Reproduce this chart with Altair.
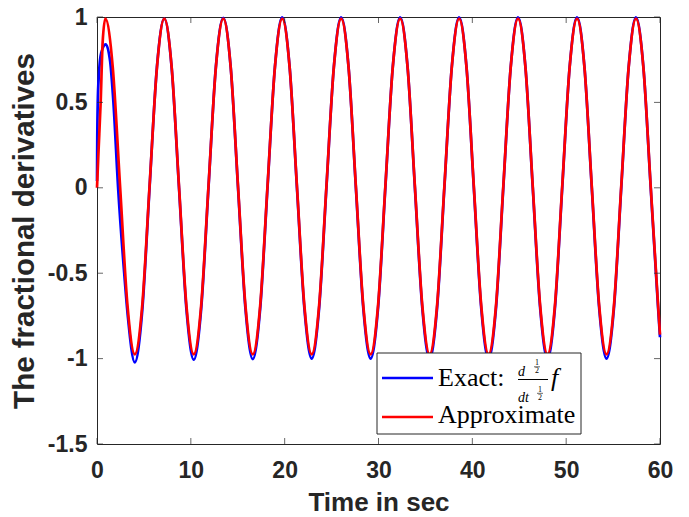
import altair as alt
import pandas as pd

# ---------------- data ----------------
x_ticks = [0, 10, 20, 30, 40, 50, 60]
y_ticks = [-1.5, -1, -0.5, 0, 0.5, 1]

exact_t = [0, 0.03, 0.08, 0.2, 0.45, 0.93, 1.4, 1.75, 2.25, 2.9, 3.3, 4.02, 4.82, 5.60, 6.39,
           7.17, 7.96, 8.74, 9.53, 10.31, 11.10, 11.88, 12.67,
           13.46, 14.25, 15.03, 15.82, 16.60, 17.39, 18.17, 18.96,
           19.74, 20.53, 21.31, 22.10, 22.88, 23.67, 24.45, 25.24,
           26.02, 26.81, 27.59, 28.38, 29.16, 29.95, 30.73, 31.52,
           32.31, 33.10, 33.88, 34.67, 35.45, 36.24, 37.02, 37.81,
           38.59, 39.38, 40.16, 40.95, 41.73, 42.52, 43.30, 44.09,
           44.87, 45.66, 46.44, 47.23, 48.01, 48.80, 49.58, 50.37,
           51.16, 51.95, 52.73, 53.52, 54.30, 55.09, 55.87, 56.66,
           57.44, 58.23, 59.01, 59.80, 60.0]
exact_v = [0.04, 0.3, 0.5, 0.66, 0.79, 0.84, 0.74, 0.5, 0.0, -0.5, -0.76, -1.022, -0.72, 0.0, 0.71,
           0.99, 0.70, 0.0, -0.71, -1.006, -0.71, 0.0, 0.71,
           0.995, 0.705, 0.0, -0.707, -1.003, -0.707, 0.0, 0.707,
           0.998, 0.706, 0.0, -0.706, -1.0, -0.706, 0.0, 0.706,
           0.998, 0.706, 0.0, -0.706, -1.0, -0.706, 0.0, 0.706,
           0.998, 0.706, 0.0, -0.706, -1.0, -0.706, 0.0, 0.706,
           0.998, 0.706, 0.0, -0.706, -1.0, -0.706, 0.0, 0.706,
           0.998, 0.706, 0.0, -0.706, -1.0, -0.706, 0.0, 0.706,
           0.998, 0.706, 0.0, -0.706, -1.0, -0.706, 0.0, 0.706,
           0.998, 0.706, 0.0, -0.706, -0.875]

approx_t = [0, 0.15, 0.39, 0.6, 0.89, 1.68, 2.46, 3.25, 4.03, 4.82, 5.60, 6.39,
            7.17, 7.96, 8.74, 9.53, 10.31, 11.10, 11.88, 12.67,
            13.46, 14.25, 15.03, 15.82, 16.60, 17.39, 18.17, 18.96,
            19.74, 20.53, 21.31, 22.10, 22.88, 23.67, 24.45, 25.24,
            26.02, 26.81, 27.59, 28.38, 29.16, 29.95, 30.73, 31.52,
            32.31, 33.10, 33.88, 34.67, 35.45, 36.24, 37.02, 37.81,
            38.59, 39.38, 40.16, 40.95, 41.73, 42.52, 43.30, 44.09,
            44.87, 45.66, 46.44, 47.23, 48.01, 48.80, 49.58, 50.37,
            51.16, 51.95, 52.73, 53.52, 54.30, 55.09, 55.87, 56.66,
            57.44, 58.23, 59.01, 59.80, 60.0]
approx_v = [0.0, 0.2, 0.5, 0.85, 0.99, 0.705, 0.008, -0.69, -0.975, -0.69, 0.008, 0.705,
            0.99, 0.705, 0.008, -0.69, -0.975, -0.69, 0.008, 0.705,
            0.99, 0.705, 0.008, -0.69, -0.975, -0.69, 0.008, 0.705,
            0.99, 0.705, 0.008, -0.69, -0.975, -0.69, 0.008, 0.705,
            0.99, 0.705, 0.008, -0.69, -0.975, -0.69, 0.008, 0.705,
            0.99, 0.705, 0.008, -0.69, -0.975, -0.69, 0.008, 0.705,
            0.99, 0.705, 0.008, -0.69, -0.975, -0.69, 0.008, 0.705,
            0.99, 0.705, 0.008, -0.69, -0.975, -0.69, 0.008, 0.705,
            0.99, 0.705, 0.008, -0.69, -0.975, -0.69, 0.008, 0.705,
            0.99, 0.705, 0.008, -0.69, -0.86]

# ---------------- chart ----------------
AX = "#262626"
W, H = 563, 427

df = pd.concat([
    pd.DataFrame({"t": exact_t, "v": exact_v, "series": "Exact"}),
    pd.DataFrame({"t": approx_t, "v": approx_v, "series": "Approximate"}),
], ignore_index=True)

xscale = alt.Scale(domain=[0, 60], nice=False, zero=False)
yscale = alt.Scale(domain=[-1.5, 1], nice=False, zero=False)

xaxis = alt.Axis(values=x_ticks, title="Time in sec", labelPadding=15, titlePadding=7,
                 labelExpr="'' + datum.value")
yaxis = alt.Axis(values=y_ticks, title="The fractional derivatives", labelPadding=10,
                 titlePadding=8, titleFontSize=29.5, labelExpr="'' + datum.value")

base = alt.Chart(df)
blue = base.transform_filter(alt.datum.series == "Exact").mark_line(
    color="#0000FF", strokeWidth=2.7, interpolate="monotone").encode(
    x=alt.X("t:Q", scale=xscale, axis=xaxis),
    y=alt.Y("v:Q", scale=yscale, axis=yaxis))
red = base.transform_filter(alt.datum.series == "Approximate").mark_line(
    color="#FF0000", strokeWidth=2.7, interpolate="monotone").encode(
    x=alt.X("t:Q", scale=xscale),
    y=alt.Y("v:Q", scale=yscale))

xt = pd.DataFrame({"t": x_ticks})
yt = pd.DataFrame({"v": y_ticks})
tick_style = dict(color=AX, thickness=1, size=6)
bottom_ticks = alt.Chart(xt).mark_tick(orient="vertical", yOffset=-3, **tick_style).encode(
    x=alt.X("t:Q", scale=xscale), y=alt.datum(-1.5))
top_ticks = alt.Chart(xt).mark_tick(orient="vertical", yOffset=3, **tick_style).encode(
    x=alt.X("t:Q", scale=xscale), y=alt.datum(1))
left_ticks = alt.Chart(yt).mark_tick(orient="horizontal", xOffset=3, **tick_style).encode(
    y=alt.Y("v:Q", scale=yscale), x=alt.datum(0))
right_ticks = alt.Chart(yt).mark_tick(orient="horizontal", xOffset=-3, **tick_style).encode(
    y=alt.Y("v:Q", scale=yscale), x=alt.datum(60))

# ---------------- legend (drawn by hand to keep the LaTeX fraction) ----------------
one = pd.DataFrame({"k": [0]})
SERIF = "Liberation Serif"


def txt(s, x, y, size, style="normal", align="left"):
    return alt.Chart(one).mark_text(text=s, fontSize=size, font=SERIF, fontStyle=style,
                                    align=align, baseline="alphabetic", color="black").encode(
        x=alt.value(x), y=alt.value(y))


def rule(x1, x2, y, color="black", width=1.0):
    return alt.Chart(one).mark_rule(color=color, strokeWidth=width).encode(
        x=alt.value(x1), x2=alt.value(x2), y=alt.value(y))


legend_box = alt.Chart(one).mark_rect(fill="white", stroke=AX, strokeWidth=1).encode(
    x=alt.value(280), x2=alt.value(484), y=alt.value(336), y2=alt.value(417))

legend = [
    legend_box,
    rule(285, 336, 361, "#0000FF", 2.7),
    rule(285, 336, 400, "#FF0000", 2.7),
    txt("Exact:", 341, 369, 26),
    txt("Approximate", 341, 406, 26),
    # d^{1/2} / dt^{1/2}
    txt("d", 421, 359, 14, "italic"),
    txt("1", 440, 348, 8, align="center"),
    rule(437, 443, 349.8, "black", 0.6),
    txt("2", 440, 356, 8, align="center"),
    rule(421, 451, 362.5, "black", 1),
    txt("dt", 421, 385, 14, "italic"),
    txt("1", 443, 374.5, 8, align="center"),
    rule(440, 446, 376.3, "black", 0.6),
    txt("2", 443, 382.5, 8, align="center"),
    txt("f", 454, 369, 26, "italic"),
]

chart = alt.layer(blue, red, bottom_ticks, top_ticks, left_ticks, right_ticks, *legend).properties(
    width=W, height=H,
    padding={"left": 89, "top": 9, "right": 20, "bottom": 73},
    autosize=alt.AutoSizeParams(type="none"),
    background="white",
).configure_view(stroke=AX, strokeWidth=1).configure_axis(
    domain=False, ticks=False, tickSize=0, grid=False,
    labelFont="Liberation Sans", labelFontSize=23, labelFontWeight="bold", labelColor=AX,
    labelFlush=False, labelOverlap=False,
    titleFont="Liberation Sans", titleFontSize=26, titleFontWeight="bold", titleColor=AX,
)

chart.save("out.html", embed_options={"renderer": "svg", "actions": False})
